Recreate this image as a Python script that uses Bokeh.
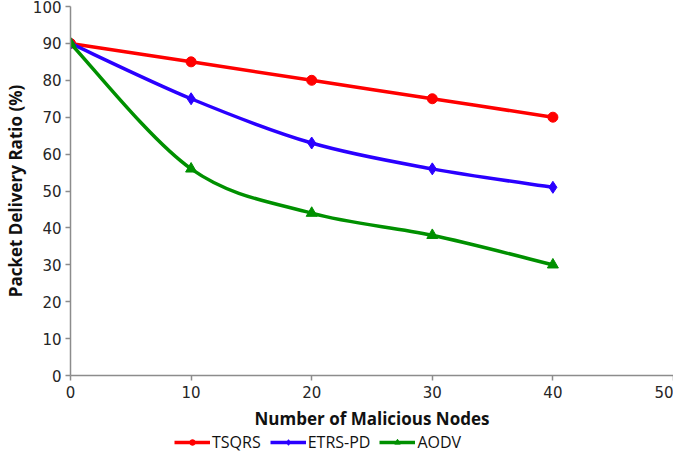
import numpy as np
from bokeh.plotting import figure
from bokeh.layouts import column
from bokeh.models import Range1d, FixedTicker, Legend, LegendItem
from bokeh.embed import file_html
from bokeh.resources import INLINE

nodes = [0, 10, 20, 30, 40]
tsqrs = [90, 85, 80, 75, 70]
etrs_pd = [90, 75, 63, 56, 51]
aodv = [90, 56, 44, 38, 30]
x_ticks = [0, 10, 20, 30, 40, 50]
y_ticks = [0, 10, 20, 30, 40, 50, 60, 70, 80, 90, 100]

p = figure(width=673, height=432, output_backend="svg", toolbar_location=None,
           x_range=Range1d(0, 50), y_range=Range1d(0, 100),
           min_border_left=0, min_border_right=0, min_border_top=6, min_border_bottom=0)
p.outline_line_color = None
p.xgrid.visible = False
p.ygrid.visible = False
p.background_fill_color = "white"

for ax in (p.xaxis[0], p.yaxis[0]):
    ax.axis_line_color = "#8c8c8c"
    ax.axis_line_width = 1.5
    ax.major_tick_line_color = "#8c8c8c"
    ax.major_tick_line_width = 1.5
    ax.major_tick_in = 0
    ax.major_tick_out = 5
    ax.minor_tick_line_color = None
    ax.major_label_text_font = "DejaVu Sans"
    ax.major_label_text_font_size = "15px"
    ax.major_label_text_color = "#262626"
    ax.axis_label_text_font = "Open Sans"
    ax.axis_label_text_font_style = "bold"
    ax.axis_label_text_font_size = "17px"
    ax.axis_label_text_color = "#111111"

p.xaxis.ticker = FixedTicker(ticks=x_ticks)
p.yaxis.ticker = FixedTicker(ticks=y_ticks)
p.xaxis.axis_label = "Number of Malicious Nodes"
p.yaxis.axis_label = "Packet Delivery Ratio (%)"
p.xaxis.major_label_standoff = 5
p.yaxis.major_label_standoff = 4
p.xaxis.axis_label_standoff = 6
p.yaxis.axis_label_standoff = 3


def smooth_segments(xs, ys):
    xs = np.asarray(xs, float)
    ys = np.asarray(ys, float)
    n = len(xs)
    px = np.concatenate([[xs[0]], xs, [xs[-1]]])
    py = np.concatenate([[ys[0]], ys, [ys[-1]]])
    seg = dict(x0=[], y0=[], x1=[], y1=[], cx0=[], cy0=[], cx1=[], cy1=[])
    for i in range(n - 1):
        a, b, c, d = i, i + 1, i + 2, i + 3
        seg["x0"].append(px[b]); seg["y0"].append(py[b])
        seg["x1"].append(px[c]); seg["y1"].append(py[c])
        seg["cx0"].append(px[b] + (px[c] - px[a]) / 6)
        seg["cy0"].append(py[b] + (py[c] - py[a]) / 6)
        seg["cx1"].append(px[c] - (px[d] - px[b]) / 6)
        seg["cy1"].append(py[c] - (py[d] - py[b]) / 6)
    return seg

series = [
    ("TSQRS", tsqrs, "#ff0000", "circle", 10),
    ("ETRS-PD", etrs_pd, "#2a00ff", "diamond", 12),
    ("AODV", aodv, "#009000", "triangle", 11),
]

# legend strip below the chart (its glyph renderers sit outside its visible range)
q = figure(width=673, height=23, output_backend="svg", toolbar_location=None,
           x_range=Range1d(0, 1), y_range=Range1d(0, 1),
           min_border_left=0, min_border_right=0, min_border_top=0, min_border_bottom=0)
q.axis.visible = False
q.xgrid.visible = False
q.ygrid.visible = False
q.outline_line_color = None

items = []
for name, vals, color, marker, size in series:
    seg = smooth_segments(nodes, vals)
    p.bezier(x0=seg["x0"], y0=seg["y0"], x1=seg["x1"], y1=seg["y1"],
             cx0=seg["cx0"], cy0=seg["cy0"], cx1=seg["cx1"], cy1=seg["cy1"],
             line_color=color, line_width=3.5)
    p.scatter(nodes, vals, marker=marker, size=size, fill_color=color,
              line_color=color)
    lr = q.line(nodes, vals, line_color=color, line_width=3.5)
    sr = q.scatter(nodes, vals, marker=marker, size=size - 1, fill_color=color,
                   line_color=color)
    items.append(LegendItem(label=name, renderers=[lr, sr]))

legend = Legend(items=items, orientation="horizontal", location=(104, 2),
                background_fill_alpha=0, border_line_color=None,
                label_text_font="Open Sans", label_text_font_size="16px",
                label_text_color="#111111", glyph_width=36, glyph_height=14,
                label_height=18, spacing=9, padding=0, margin=0, label_standoff=2)
q.add_layout(legend, "center")

layout = column(p, q, spacing=0)
open("out.html", "w").write(file_html(layout, INLINE))
